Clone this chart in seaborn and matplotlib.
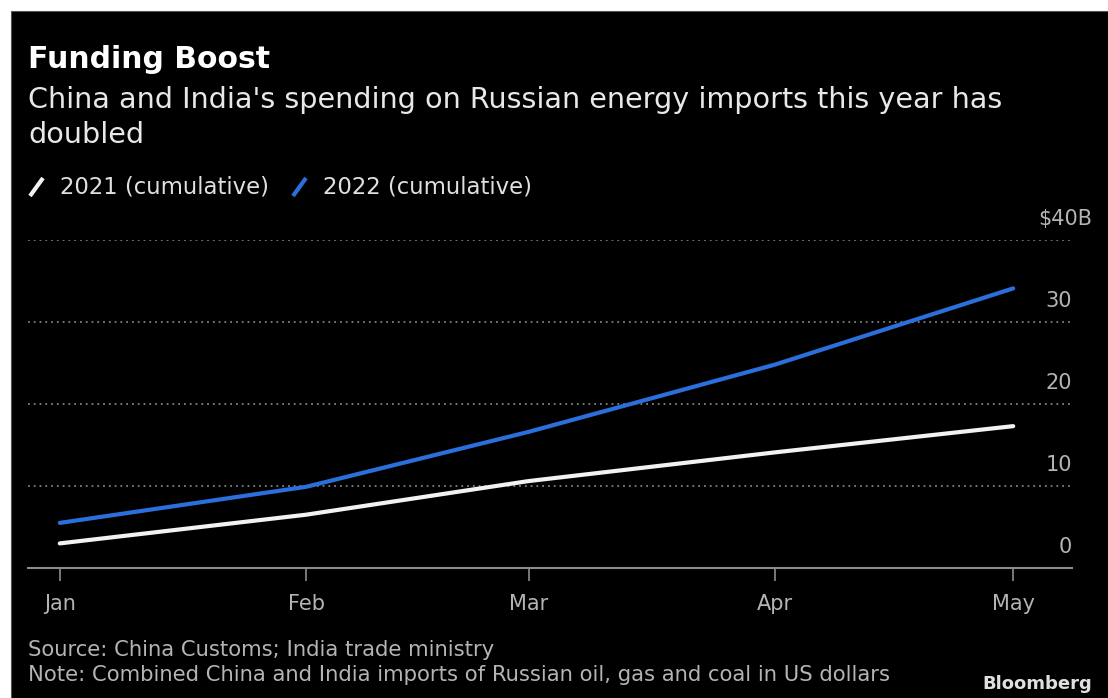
import pandas as pd
import matplotlib.pyplot as plt
import matplotlib.transforms as mtransforms
from matplotlib.lines import Line2D
from matplotlib.patches import Rectangle
import seaborn as sns

# ---- data ----
meses = ["2022-01-01", "2022-02-01", "2022-03-01", "2022-04-01", "2022-05-01"]
valores_2021 = [3.0, 6.5, 10.6, 14.1, 17.3]
valores_2022 = [5.5, 9.9, 16.6, 24.8, 34.1]
serie_2021 = "2021 (cumulative)"
serie_2022 = "2022 (cumulative)"
y_ticks = [0, 10, 20, 30, 40]
y_labels = ["0", "10", "20", "30", "$40B"]
x_labels = ["Jan", "Feb", "Mar", "Apr", "May"]

COLORES = {serie_2021: "#f2f2f2", serie_2022: "#2a6fdc"}
GRIS = "#b4b4b4"

df = pd.DataFrame({
    "fecha": pd.to_datetime(meses * 2),
    "valor": valores_2021 + valores_2022,
    "serie": [serie_2021] * len(meses) + [serie_2022] * len(meses),
})

sns.set_style("dark")
plt.rcParams["font.family"] = ["DejaVu Sans"]

W, H = 1108, 698
fig = plt.figure(figsize=(W / 100, H / 100), dpi=100, facecolor="white")
# panel negro con margen blanco arriba/izquierda
fig.add_artist(Rectangle((11 / W, -0.01), 1.01, 1.01 - 11 / H, transform=fig.transFigure,
                         facecolor="black", edgecolor="#555555", linewidth=0.8, zorder=0))

ax = fig.add_axes([28 / W, 1 - 568 / H, (1072 - 28) / W, (568 - 240) / H])
ax.set_facecolor("black")

sns.lineplot(data=df, x="fecha", y="valor", hue="serie", palette=COLORES,
             linewidth=3.0, legend=False, ax=ax, zorder=3)

ax.set_xlim(pd.Timestamp("2022-01-01") - pd.Timedelta(days=4.0),
            pd.Timestamp("2022-05-01") + pd.Timedelta(days=7.4))
ax.set_ylim(0, 40)

# eje x
ax.set_xticks(pd.to_datetime(meses))
ax.set_xticklabels(x_labels)
ax.tick_params(axis="x", bottom=True, colors="#8c8c8c", length=9, width=1.2, direction="out",
               labelcolor=GRIS, labelsize=15, pad=10)

# eje y a la derecha, etiquetas sobre las líneas de la rejilla
ax.yaxis.tick_right()
ax.set_yticks(y_ticks)
ax.set_yticklabels(y_labels)
ax.tick_params(axis="y", length=0, labelcolor=GRIS, labelsize=15, pad=0)
for lab in ax.get_yticklabels():
    lab.set_horizontalalignment("right")
    lab.set_transform(lab.get_transform() +
                      mtransforms.ScaledTranslation(0, 23 / 100, fig.dpi_scale_trans))
ax.get_yticklabels()[-1].set_transform(
    ax.get_yticklabels()[-1].get_transform() +
    mtransforms.ScaledTranslation(20 / 100, 0, fig.dpi_scale_trans))

ax.grid(axis="y", color="#808080", linestyle=(0, (1, 2.2)), linewidth=1.3)
ax.grid(axis="x", visible=False)
for s in ["top", "left", "right"]:
    ax.spines[s].set_visible(False)
ax.spines["bottom"].set_color("#8c8c8c")
ax.spines["bottom"].set_linewidth(1.5)
ax.set_xlabel("")
ax.set_ylabel("")

# títulos
fig.text(28 / W, 1 - 59 / H, "Funding Boost", color="white", fontsize=21.5,
         fontweight="bold", va="center", ha="left")
fig.text(28 / W, 1 - 100 / H, "China and India's spending on Russian energy imports this year has",
         color="#e8e8e8", fontsize=20.6, va="center", ha="left")
fig.text(28 / W, 1 - 135 / H, "doubled", color="#e8e8e8", fontsize=20.6, va="center", ha="left")

# leyenda con trazos inclinados
for x0, serie in [(30, serie_2021), (293, serie_2022)]:
    fig.add_artist(Line2D([x0 / W, (x0 + 13) / W], [1 - 196 / H, 1 - 178 / H],
                          transform=fig.transFigure, color=COLORES[serie], linewidth=3.0,
                          solid_capstyle="butt"))
    fig.text((x0 + 30) / W, 1 - 187 / H, serie, color="#e0e0e0", fontsize=16.4,
             va="center", ha="left")

# pie
fig.text(28 / W, 1 - 650 / H, "Source: China Customs; India trade ministry",
         color=GRIS, fontsize=15.2, va="center", ha="left")
fig.text(28 / W, 1 - 675 / H,
         "Note: Combined China and India imports of Russian oil, gas and coal in US dollars",
         color=GRIS, fontsize=15.2, va="center", ha="left")
fig.text(1092 / W, 1 - 684 / H, "Bloomberg", color="#e0e0e0", fontsize=13,
         fontweight="bold", va="center", ha="right")

fig.savefig("out.png", dpi=100, facecolor=fig.get_facecolor())
